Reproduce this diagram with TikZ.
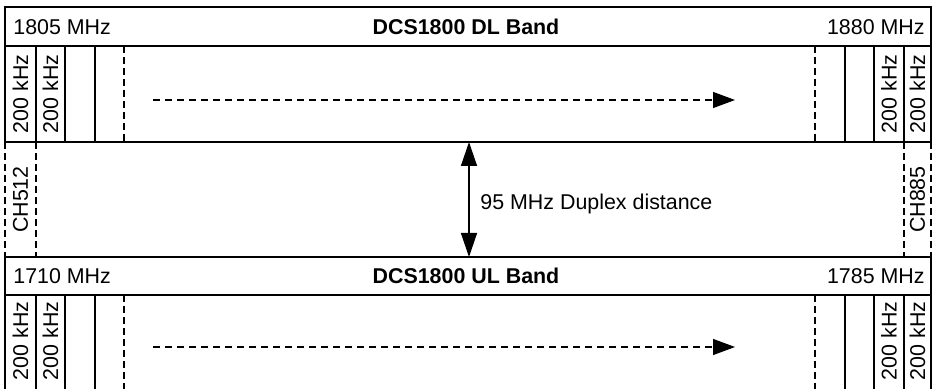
\documentclass[tikz,border=0pt]{standalone}
\usepackage{fontspec}
\setmainfont{Liberation Sans}
\usetikzlibrary{arrows.meta, positioning, calc}
\tikzset{
  frm/.style={draw, line width=0.9pt},
  dsh/.style={draw, line width=0.6pt, dash pattern=on 3.5pt off 2pt},
  freq/.style={font=\fontsize{10.7}{12}\selectfont, inner sep=0pt},
  band/.style={font=\fontsize{10.7}{12}\selectfont\bfseries, inner sep=0pt},
  chn/.style={font=\fontsize{10.7}{12}\selectfont, rotate=90, inner sep=0pt},
  sweep/.style={-{Triangle[length=11pt,width=8pt]}, line width=0.6pt,
    dash pattern=on 3.5pt off 2.5pt},
  dup/.style={{Triangle[length=12pt,width=8pt]}-{Triangle[length=12pt,width=8pt]},
    line width=0.7pt},
}
\begin{document}
\begin{tikzpicture}[x=0.5pt,y=-0.5pt]
  \useasboundingbox (0,0) rectangle (932,389);

  % DL band
  \draw[frm] (5,7) rectangle (931,46);
  \draw[frm] (5,46) rectangle (931,142);
  \node[freq,anchor=west] (dlfrom) at (13,27)  {1805 MHz};
  \node[band]             (dlband) at (466,27) {DCS1800 DL Band};
  \node[freq,anchor=east] (dlto)   at (925,27) {1880 MHz};

  % UL band
  \draw[frm] (5,257) rectangle (931,295);
  \draw[frm] (5,389) -- (5,295) -- (931,295) -- (931,389);
  \node[freq,anchor=west] (ulfrom) at (13,276)  {1710 MHz};
  \node[band]             (ulband) at (466,276) {DCS1800 UL Band};
  \node[freq,anchor=east] (ulto)   at (925,276) {1785 MHz};

  % channel rasters
  \foreach \ya/\yb in {46/142, 295/389} {
    \foreach \x in {36,65,95,845,874,904}
      \draw[frm] (\x,\ya) -- (\x,\yb);
    \foreach \x in {124,815}
      \draw[dsh] (\x,\ya) -- (\x,\yb);
  }
  \node[chn] (dlc1) at (20.5,94)  {200 kHz};
  \node[chn] (dlc2) at (50.5,94)  {200 kHz};
  \node[chn] (dlc3) at (889,94)   {200 kHz};
  \node[chn] (dlc4) at (917.5,94) {200 kHz};
  \node[chn] (ulc1) at (20.5,341)  {200 kHz};
  \node[chn] (ulc2) at (50.5,341)  {200 kHz};
  \node[chn] (ulc3) at (889,341)   {200 kHz};
  \node[chn] (ulc4) at (917.5,341) {200 kHz};

  % edge channels
  \foreach \x in {5,36,904,931}
    \draw[dsh] (\x,142) -- (\x,257);
  \node[chn] (ch512) at (20.5,199.5)  {CH512};
  \node[chn] (ch885) at (917.5,199.5) {CH885};

  % sweeps
  \coordinate (dls) at (153,100);
  \coordinate (dle) at (735,100);
  \coordinate (uls) at (153,347);
  \coordinate (ule) at (735,347);
  \draw[sweep] (dls) -- (dle);
  \draw[sweep] (uls) -- (ule);

  % duplex distance
  \coordinate (dtop) at (469,142);
  \coordinate (dbot) at (469,257);
  \draw[dup] (dtop) -- (dbot);
  \node[freq,anchor=west] (duplex) at (480,204) {95 MHz Duplex distance};
\end{tikzpicture}
\end{document}
